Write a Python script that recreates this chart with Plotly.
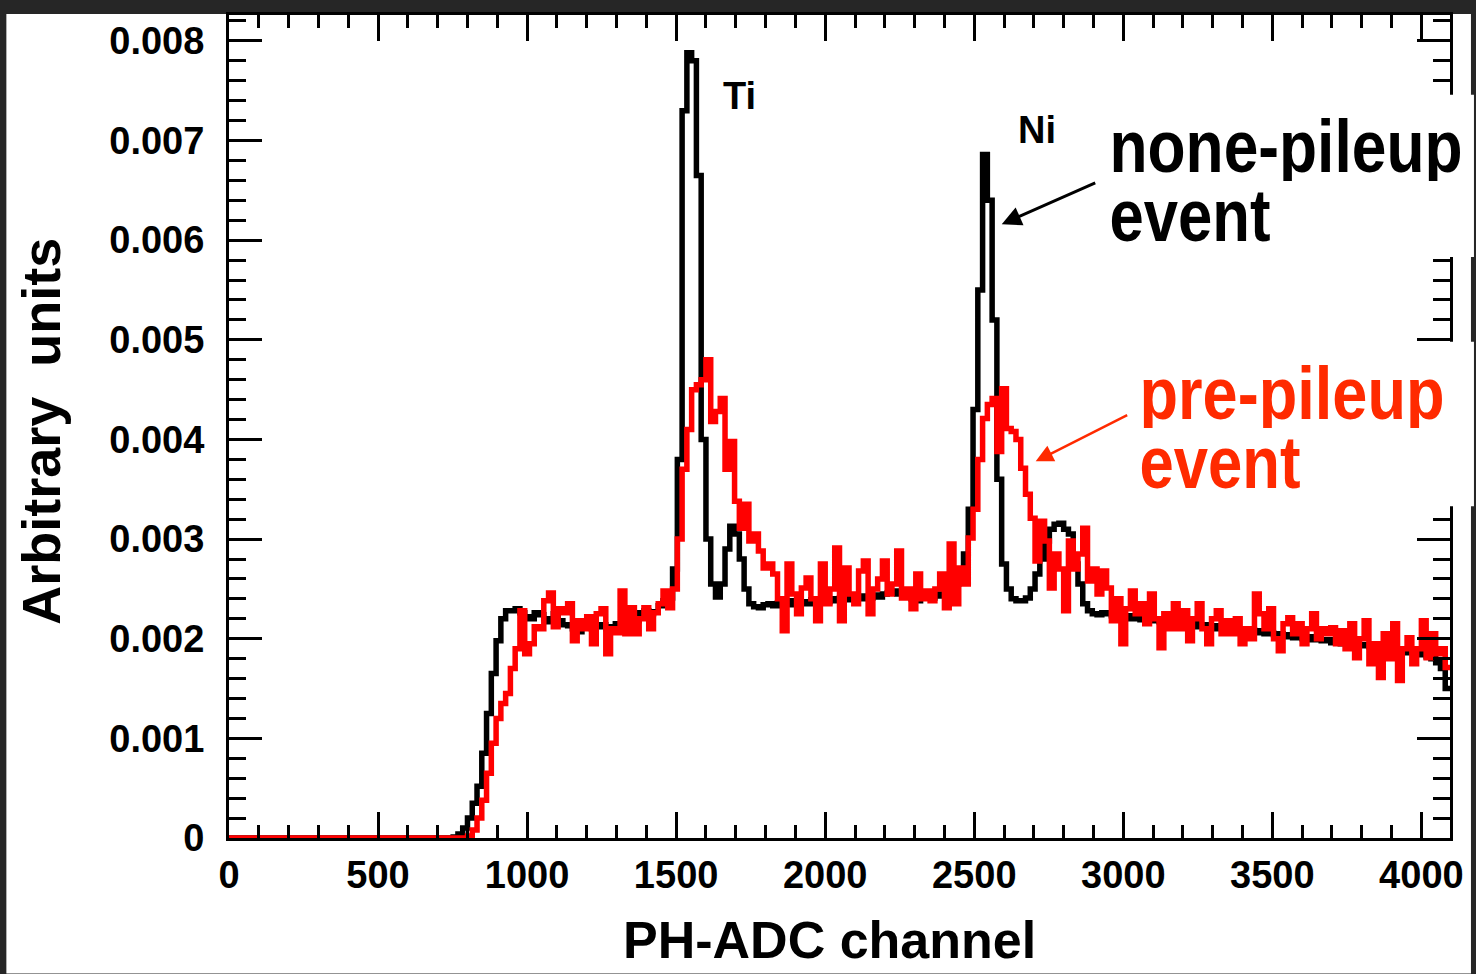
import plotly.graph_objects as go

# ---------------- data (units of 1e-4, bins of 16 ADC channels) ----------------
BIN_WIDTH = 16
N_BINS = 256
SCALE = 1e-4

none_pileup = [
    0, 0, 0, 0, 0, 0, 0, 0, 0, 0, 0, 0, 0, 0, 0, 0,
    0, 0, 0, 0, 0, 0, 0, 0, 0, 0, 0, 0, 0, 0, 0, 0,
    0, 0, 0, 0, 0, 0, 0, 0, 0, 0, 0, 0, 0, 0, 0, 0.1,
    0.4, 1.0, 2.0, 3.5, 5.2, 8.5, 12.5, 16.5, 19.8, 22.0, 22.8, 22.8, 23.0, 22.6, 22.2, 22.0,
    22.6, 22.4, 22.0, 21.7, 22.5, 21.8, 21.4, 21.3, 21.0, 20.7, 21.1, 21.3, 21.0, 21.2, 21.4, 21.0,
    21.2, 21.5, 21.3, 21.0, 21.3, 21.8, 22.6, 22.8, 22.5, 22.7, 23.3, 23.8, 24.1, 27.0, 38.0, 73.0,
    78.8, 78.0, 66.5, 40.0, 30.0, 25.5, 24.2, 25.5, 29.0, 31.3, 30.5, 28.0, 25.0, 23.5, 23.2, 23.1,
    23.4, 23.5, 23.3, 23.6, 23.5, 23.8, 23.4, 23.6, 23.7, 23.5, 23.9, 23.6, 23.8, 23.7, 24.0, 23.8,
    24.1, 23.9, 24.0, 24.2, 24.0, 24.3, 24.1, 24.4, 24.2, 24.5, 24.6, 24.8, 24.5, 24.7, 24.3, 24.0,
    23.8, 24.2, 24.4, 24.1, 24.5, 24.3, 24.6, 25.0, 25.5, 27.0, 28.5, 33.0, 43.0, 55.0, 68.6, 64.0,
    52.0, 36.0, 27.5, 25.0, 24.0, 23.8, 23.8, 24.1, 25.0, 26.5, 28.0, 29.8, 31.0, 31.5, 31.6, 31.0,
    30.5, 27.5, 25.5, 23.5, 22.8, 22.5, 22.4, 22.6, 22.5, 22.3, 22.5, 22.2, 22.3, 22.0, 22.2, 21.9,
    22.0, 21.8, 21.9, 21.7, 21.8, 21.5, 21.7, 21.4, 21.6, 21.3, 21.5, 21.2, 21.4, 21.1, 21.3, 21.0,
    21.2, 20.9, 21.0, 20.8, 21.0, 20.7, 20.9, 20.6, 20.8, 20.5, 20.6, 20.4, 20.5, 20.2, 20.4, 20.1,
    20.3, 20.0, 20.2, 19.9, 20.0, 19.8, 19.9, 19.6, 19.8, 19.5, 19.7, 19.4, 19.5, 19.3, 19.4, 19.2,
    19.3, 19.0, 19.2, 18.9, 19.0, 18.8, 18.9, 18.6, 18.7, 18.5, 18.4, 18.2, 18.0, 17.6, 17.0, 15.0,
]

pre_pileup = [
    0, 0, 0, 0, 0, 0, 0, 0, 0, 0, 0, 0, 0, 0, 0, 0,
    0, 0, 0, 0, 0, 0, 0, 0, 0, 0, 0, 0, 0, 0, 0, 0,
    0, 0, 0, 0, 0, 0, 0, 0, 0, 0, 0, 0, 0, 0, 0, 0,
    0.0, 0.0, 0.2, 0.8, 2.0, 3.8, 6.5, 9.5, 12.0, 13.5, 14.5, 17.0, 19.0, 22.8, 18.5, 19.5,
    21.2, 21.0, 23.8, 24.6, 21.2, 23.0, 22.6, 23.5, 19.8, 21.8, 21.0, 22.2, 19.5, 22.5, 23.0, 18.5,
    21.0, 20.6, 24.8, 20.5, 23.1, 20.5, 22.0, 23.1, 21.0, 22.6, 23.5, 24.8, 23.1, 25.0, 30.0, 37.0,
    41.0, 45.0, 45.5, 46.0, 48.0, 41.8, 42.8, 44.1, 37.0, 39.8, 33.8, 31.1, 33.5, 29.8, 30.5, 28.8,
    27.1, 27.5, 26.5, 24.0, 20.8, 27.5, 24.5, 22.5, 25.1, 26.1, 24.0, 21.8, 27.5, 23.5, 25.0, 29.1,
    21.8, 27.1, 24.5, 23.5, 26.8, 27.8, 22.5, 25.0, 26.0, 27.8, 24.5, 25.5, 28.8, 24.1, 25.0, 23.0,
    26.5, 24.0, 24.8, 23.8, 25.0, 26.5, 23.1, 29.5, 23.5, 27.1, 25.5, 30.1, 33.0, 38.0, 42.1, 43.5,
    44.1, 38.8, 45.1, 41.1, 40.8, 40.0, 37.1, 34.5, 32.1, 27.8, 31.8, 29.8, 25.1, 28.5, 27.0, 22.8,
    29.8, 27.0, 28.5, 31.1, 25.8, 27.0, 24.5, 26.8, 25.1, 21.8, 24.0, 19.5, 23.0, 24.8, 22.5, 23.5,
    21.5, 24.5, 22.0, 19.1, 22.5, 21.0, 23.5, 21.0, 22.8, 19.8, 22.0, 23.5, 21.0, 19.5, 22.0, 22.8,
    20.5, 21.8, 20.5, 22.0, 19.5, 21.0, 20.0, 24.5, 22.5, 21.0, 23.0, 20.0, 18.8, 21.5, 22.1, 20.5,
    21.5, 19.5, 21.0, 22.5, 20.0, 21.0, 20.5, 21.1, 19.5, 20.8, 19.0, 21.5, 18.1, 20.0, 21.8, 17.5,
    19.5, 16.1, 20.5, 18.0, 21.5, 15.8, 19.0, 20.1, 17.5, 19.0, 21.8, 18.1, 20.5, 18.5, 19.0, 17.1,
]

x_tick_vals = [0, 500, 1000, 1500, 2000, 2500, 3000, 3500, 4000]
x_tick_text = ["0", "500", "1000", "1500", "2000", "2500", "3000", "3500", "4000"]
y_tick_vals = [0, 0.001, 0.002, 0.003, 0.004, 0.005, 0.006, 0.007, 0.008]
y_tick_text = ["0", "0.001", "0.002", "0.003", "0.004", "0.005", "0.006", "0.007", "0.008"]

# ---------------- geometry ----------------
W, H = 1476, 974
L, R, T, B = 229, 1452, 12, 838
X_MAX = BIN_WIDTH * N_BINS
Y_MAX = 0.00826


def px(xp):
    return (xp - L) / (R - L)


def py(yp):
    return (B - yp) / (B - T)


edges = [i * BIN_WIDTH for i in range(N_BINS)] + [X_MAX]


def steps(vals):
    ys = [v * SCALE for v in vals]
    return ys + [ys[-1]]


FONT = "Liberation Sans, Arial, Helvetica, sans-serif"

fig = go.Figure()
fig.add_trace(go.Scatter(x=edges, y=steps(none_pileup), mode="lines",
                         line=dict(shape="hv", color="#000000", width=5.5),
                         showlegend=False, hoverinfo="skip"))
fig.add_trace(go.Scatter(x=edges, y=steps(pre_pileup), mode="lines",
                         line=dict(shape="hv", color="#ff0000", width=5.5),
                         showlegend=False, hoverinfo="skip"))

tickfont = dict(family=FONT, size=38, color="black", weight="bold")

fig.update_xaxes(range=[0, X_MAX], showgrid=False, zeroline=False,
                 showline=True, linecolor="black", linewidth=3, mirror="allticks",
                 ticks="inside", ticklen=26, tickwidth=2.5, tickcolor="black",
                 tickvals=x_tick_vals, ticktext=x_tick_text, tickfont=tickfont,
                 ticklabelstandoff=1,
                 minor=dict(dtick=100, ticks="inside", ticklen=13, tickwidth=2.5,
                            tickcolor="black", showgrid=False))
fig.update_yaxes(range=[0, Y_MAX], showgrid=False, zeroline=False,
                 showline=True, linecolor="black", linewidth=3, mirror="allticks",
                 ticks="inside", ticklen=33, tickwidth=2.5, tickcolor="black",
                 tickvals=y_tick_vals, ticktext=y_tick_text, tickfont=tickfont,
                 ticklabelstandoff=14,
                 minor=dict(dtick=0.0002, ticks="inside", ticklen=17, tickwidth=2.5,
                            tickcolor="black", showgrid=False))

shapes = [
    dict(type="rect", xref="paper", yref="paper", x0=px(6), x1=px(1473), y0=py(11), y1=py(974),
         fillcolor="white", line=dict(width=0), layer="below"),
    dict(type="rect", xref="paper", yref="paper", x0=px(1100), x1=px(1476), y0=py(92), y1=py(255),
         fillcolor="white", line=dict(width=0), layer="above"),
    dict(type="rect", xref="paper", yref="paper", x0=px(1136), x1=px(1476), y0=py(340), y1=py(505),
         fillcolor="white", line=dict(width=0), layer="above"),
]

BIG = dict(family=FONT, size=74, weight="bold")
BOX_H = 70

annotations = [
    dict(text="PH-ADC channel", x=px(830), y=py(940), xref="paper", yref="paper",
         showarrow=False, xanchor="center", yanchor="middle",
         font=dict(family=FONT, size=52, color="black", weight="bold")),
    dict(text="Arbitrary  units", x=px(41), y=py(430), xref="paper", yref="paper",
         showarrow=False, xanchor="center", yanchor="middle", textangle=-90,
         font=dict(family=FONT, size=54, color="black", weight="bold")),
    dict(text="Ti", x=px(740), y=py(93), xref="paper", yref="paper", showarrow=False,
         xanchor="center", yanchor="middle",
         font=dict(family=FONT, size=38, color="black", weight="bold")),
    dict(text="Ni", x=px(1038), y=py(127), xref="paper", yref="paper", showarrow=False,
         xanchor="center", yanchor="middle",
         font=dict(family=FONT, size=38, color="black", weight="bold")),
    dict(text="none-pileup", x=px(1288), y=py(143), xref="paper", yref="paper", showarrow=False,
         xanchor="center", yanchor="middle", width=356, height=BOX_H, borderpad=0,
         font=dict(BIG, color="black")),
    dict(text="event", x=px(1192), y=py(213), xref="paper", yref="paper", showarrow=False,
         xanchor="center", yanchor="middle", width=164, height=BOX_H, borderpad=0,
         font=dict(BIG, color="black")),
    dict(text="pre-pileup", x=px(1294), y=py(391), xref="paper", yref="paper", showarrow=False,
         xanchor="center", yanchor="middle", width=308, height=BOX_H, borderpad=0,
         font=dict(BIG, color="#ff2a00")),
    dict(text="event", x=px(1222), y=py(461), xref="paper", yref="paper", showarrow=False,
         xanchor="center", yanchor="middle", width=164, height=BOX_H, borderpad=0,
         font=dict(BIG, color="#ff2a00")),
    dict(text="", x=px(1003), y=py(222), xref="paper", yref="paper", showarrow=True,
         ax=95, ay=-42, axref="pixel", ayref="pixel", arrowhead=2, arrowsize=1.3,
         arrowwidth=3, arrowcolor="black", standoff=0),
    dict(text="", x=px(1037), y=py(460), xref="paper", yref="paper", showarrow=True,
         ax=93, ay=-47, axref="pixel", ayref="pixel", arrowhead=2, arrowsize=1.4,
         arrowwidth=2.5, arrowcolor="#ff2a00", standoff=0),
]

fig.update_layout(
    width=W, height=H, autosize=False,
    margin=dict(l=L, r=W - R, t=T, b=H - B, pad=0),
    paper_bgcolor="#262626", plot_bgcolor="white",
    shapes=shapes, annotations=annotations,
    showlegend=False,
)

# condensed look for the big labels: squeeze glyphs to the widths seen in the reference
post = """
(function(){
  var gd = document.getElementById('{plot_id}');
  var widths = {'none-pileup': 353, 'pre-pileup': 305, 'event': 161};
  function squeeze(){
    var ts = gd.querySelectorAll('text.annotation-text');
    ts.forEach(function(t){
      var w = widths[t.textContent];
      if (w) {
        t.setAttribute('textLength', w);
        t.setAttribute('lengthAdjust', 'spacingAndGlyphs');
      }
    });
  }
  squeeze();
  if (gd.on) { gd.on('plotly_afterplot', squeeze); }
  setTimeout(squeeze, 50);
})();
"""

fig.write_html("out.html", post_script=post)
